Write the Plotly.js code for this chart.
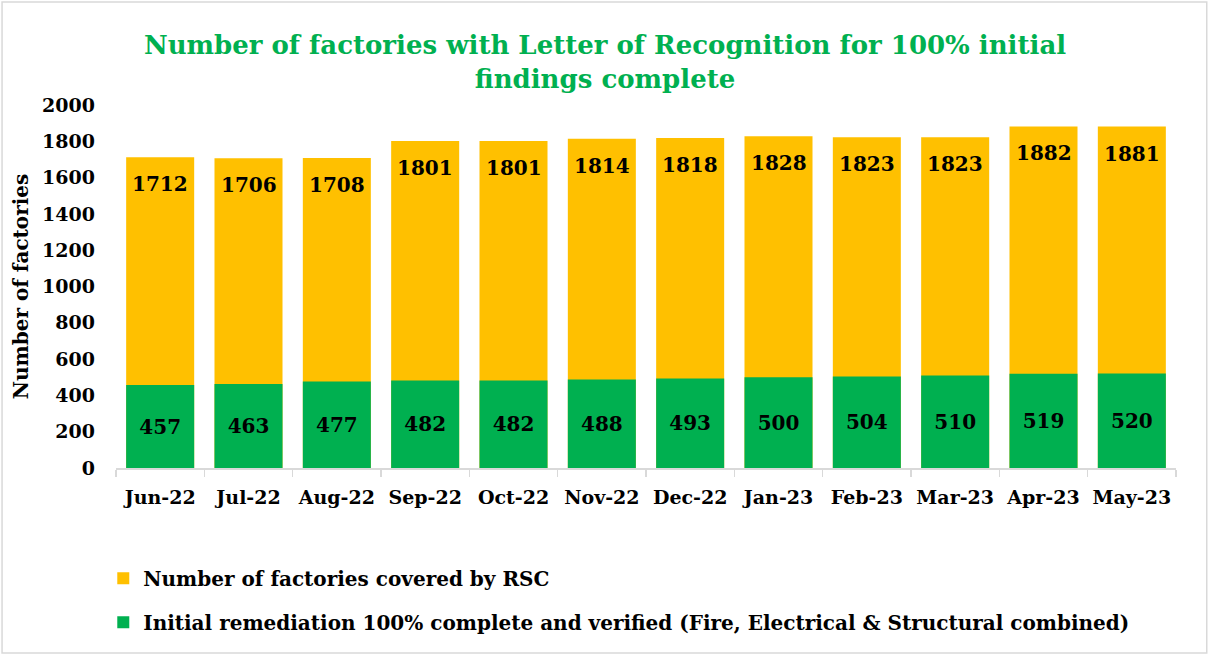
<!DOCTYPE html>
<html>
<head>
<meta charset="utf-8">
<script src="https://cdn.plot.ly/plotly-3.0.1.min.js"></script>
<style>html,body{margin:0;padding:0;background:#fff;}#chart{width:1210px;height:655px;}</style>
</head>
<body>
<div id="chart"></div>
<script>
const months = ["Jun-22","Jul-22","Aug-22","Sep-22","Oct-22","Nov-22","Dec-22","Jan-23","Feb-23","Mar-23","Apr-23","May-23"];
const covered = [1712,1706,1708,1801,1801,1814,1818,1828,1823,1823,1882,1881];
const complete = [457,463,477,482,482,488,493,500,504,510,519,520];
const yTicks = [0,200,400,600,800,1000,1200,1400,1600,1800,2000];

const F = "DejaVu Serif";
const traces = [
  {
    type: "bar", x: months, y: covered, name: "Number of factories covered by RSC",
    marker: {color: "#FFC000"}, legendgroup: "a",
    hoverinfo: "x+y"
  },
  {
    type: "bar", x: months, y: complete,
    name: "Initial remediation 100% complete and verified (Fire, Electrical & Structural combined)",
    marker: {color: "#00B050"}, legendgroup: "b",
    text: complete.map(String), textposition: "inside", insidetextanchor: "middle",
    textfont: {family: F, size: 20, color: "#000", weight: "bold"},
    hoverinfo: "x+y"
  }
];

const coveredLabels = months.map((m, i) => ({
  x: m, y: covered[i], xref: "x", yref: "y", text: String(covered[i]),
  showarrow: false, yanchor: "middle", yshift: -27,
  font: {family: F, size: 20, color: "#000", weight: "bold"}
}));

const layout = {
  width: 1210, height: 655,
  margin: {l: 116, r: 34, t: 105, b: 187},
  barmode: "overlay", bargap: 0.23,
  paper_bgcolor: "#fff", plot_bgcolor: "#fff",
  font: {family: F, color: "#000", weight: "bold"},
  title: {
    text: "Number of factories with Letter of Recognition for 100% initial<br>findings complete",
    font: {family: F, size: 26, color: "#00B050", weight: "bold"},
    x: 0.5, xanchor: "center", y: 0.918, yanchor: "middle", yref: "container"
  },
  xaxis: {
    type: "category", showgrid: false, showline: true, linecolor: "#D9D9D9", linewidth: 1.5,
    ticks: "outside", tickson: "boundaries", ticklen: 7, tickcolor: "#D9D9D9", tickwidth: 1.5,
    ticklabelstandoff: 12,
    tickfont: {family: F, size: 19, color: "#000", weight: "bold"}
  },
  yaxis: {
    range: [0, 2000], tickvals: yTicks, ticktext: yTicks.map(String),
    showgrid: false, zeroline: false, showline: false, ticks: "",
    ticklabelstandoff: 20,
    tickfont: {family: F, size: 19, color: "#000", weight: "bold"},
    title: {text: "Number of factories", font: {family: F, size: 20, color: "#000", weight: "bold"}, standoff: 8}
  },
  showlegend: true,
  legend: {
    orientation: "v", x: -0.012, xanchor: "left", y: -0.25, yanchor: "top",
    traceorder: "grouped", tracegroupgap: 15,
    font: {family: F, size: 20, color: "#000", weight: "bold"},
    itemwidth: 30, bgcolor: "rgba(0,0,0,0)"
  },
  annotations: coveredLabels,
  shapes: [{
    type: "rect", xref: "paper", yref: "paper",
    x0: -0.1075, x1: 1.029, y0: -0.5096, y1: 1.284,
    line: {color: "#D9D9D9", width: 1.5}, fillcolor: "rgba(0,0,0,0)", layer: "below"
  }]
};

Plotly.newPlot("chart", traces, layout, {displayModeBar: false, staticPlot: true});
</script>
</body>
</html>
